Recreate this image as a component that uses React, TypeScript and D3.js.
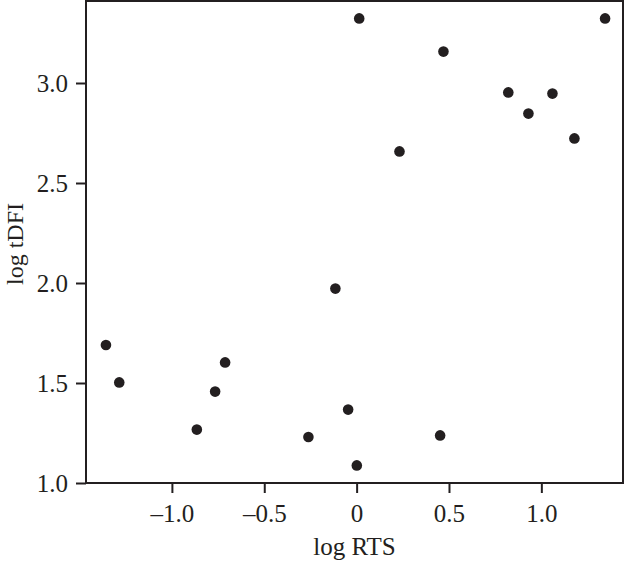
import React, { useEffect, useRef } from 'react';
import * as d3 from 'd3';

const logRTS = [
  -1.357, -1.285, -0.865, -0.766, -0.712, -0.261, -0.115, -0.046, 0.001,
  0.014, 0.232, 0.452, 0.470, 0.821, 0.930, 1.060, 1.179, 1.345,
];
const logTDFI = [
  1.690, 1.503, 1.267, 1.457, 1.603, 1.230, 1.972, 1.367, 1.088,
  3.323, 2.658, 1.238, 3.157, 2.953, 2.847, 2.947, 2.723, 3.323,
];
const xTicks = [-1.0, -0.5, 0, 0.5, 1.0];
const yTicks = [1.0, 1.5, 2.0, 2.5, 3.0];

const App = () => {
  const ref = useRef<SVGSVGElement>(null);

  useEffect(() => {
    const width = 626;
    const height = 561;
    const left = 86, right = 623, top = 1, bottom = 483;
    const ink = '#231f20';
    const font = "'Liberation Serif', 'Times New Roman', Times, serif";
    const fontSize = 25;

    const svg = d3.select(ref.current);
    svg.selectAll('*').remove();
    svg.attr('width', width).attr('height', height);

    const x = d3.scaleLinear().domain([-1.465, 1.442]).range([left, right]);
    const y = d3.scaleLinear().domain([1, 3.41]).range([bottom, top]);

    const fmt = d3.format('.1f');
    const dash = (v: number) => fmt(v).replace('−', '–');

    const xAxis = svg.append('g')
      .attr('transform', `translate(0,${bottom})`)
      .call(d3.axisBottom(x).tickValues(xTicks).tickSize(10).tickPadding(11)
        .tickFormat((d: any) => (d === 0 ? '0' : dash(d))));

    const yAxis = svg.append('g')
      .attr('transform', `translate(${left},0)`)
      .call(d3.axisLeft(y).tickValues(yTicks).tickSize(10).tickPadding(8)
        .tickFormat((d: any) => dash(d)));

    [xAxis, yAxis].forEach(g => {
      g.attr('font-family', null).attr('font-size', null);
      g.select('.domain').remove();
      g.selectAll('line').attr('stroke', ink).attr('stroke-width', 2);
      g.selectAll('text')
        .attr('fill', ink)
        .attr('font-family', font)
        .attr('font-size', fontSize);
    });

    svg.append('rect')
      .attr('x', left)
      .attr('y', top)
      .attr('width', right - left)
      .attr('height', bottom - top)
      .attr('fill', 'none')
      .attr('stroke', ink)
      .attr('stroke-width', 2);

    svg.append('g')
      .selectAll('circle')
      .data(logRTS.map((v, i) => [v, logTDFI[i]]))
      .enter().append('circle')
      .attr('cx', d => x(d[0]))
      .attr('cy', d => y(d[1]))
      .attr('r', 5.3)
      .attr('fill', ink);

    svg.append('text')
      .attr('x', (left + right) / 2)
      .attr('y', 555)
      .attr('text-anchor', 'middle')
      .attr('fill', ink)
      .attr('font-family', font)
      .attr('font-size', fontSize)
      .text('log RTS');

    // y title, kept inside the left edge
    svg.append('text')
      .attr('transform', `translate(23,${(top + bottom) / 2 + 2}) rotate(-90)`)
      .attr('text-anchor', 'middle')
      .attr('fill', ink)
      .attr('font-family', font)
      .attr('font-size', 24)
      .text('log tDFI');
  }, []);

  return <svg ref={ref} style={{ position: 'absolute', left: 0, top: 0 }}></svg>;
};

export default App;
